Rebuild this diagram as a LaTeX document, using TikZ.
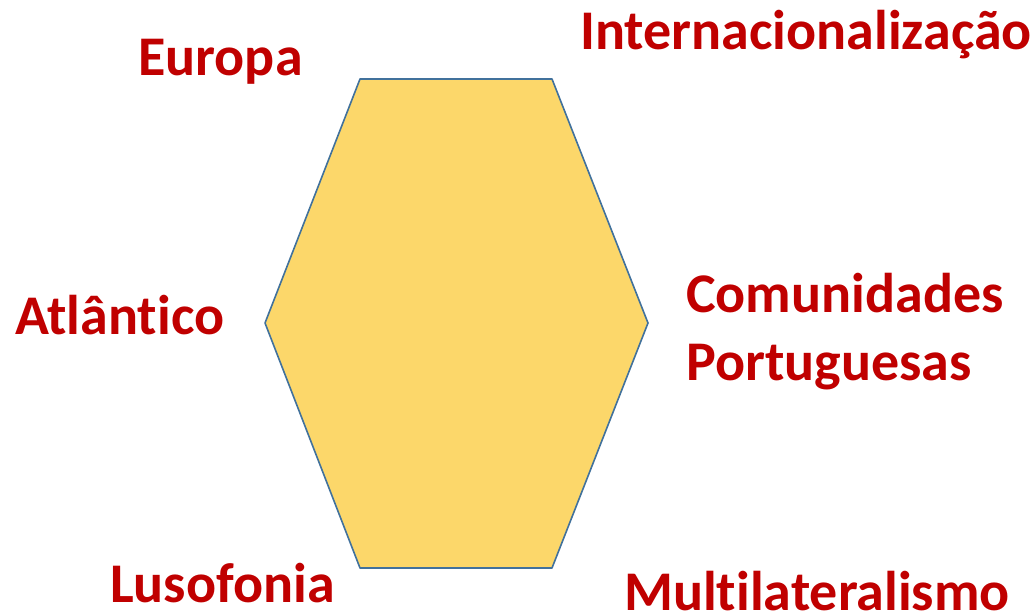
\documentclass[tikz,border=0pt]{standalone}
\usepackage{fontspec}
\setmainfont[Ligatures=NoCommon]{Carlito}
\definecolor{labelred}{HTML}{C00000}
\definecolor{hexfill}{HTML}{FCD76A}
\definecolor{hexline}{HTML}{41719C}
\begin{document}
\begin{tikzpicture}[x=1pt,y=-1pt]
        \tikzstyle{lbl}=[anchor=base west, inner sep=0pt, text=labelred, font=\fontsize{56}{64}\selectfont\bfseries]
        \useasboundingbox (0,0) rectangle (1034,613);
        % Hexagon
        \draw[hexline, line width=1.6pt, fill=hexfill, line join=round]
            (360,79) -- (552,79) -- (648,323) -- (552,568) -- (360,568) -- (265,323) -- cycle;

        % Labels
        \node (europa)[lbl] at (138,75) {Europa};
        \node (intern)[lbl] at (580,49) {Internacionalização};
        \node (atlant)[lbl] at (15,334) {Atlântico};
        \node (comun)[lbl] at (686,312) {Comunidades};
        \node (portug)[lbl] at (686,380) {Portuguesas};
        \node (luso)[lbl] at (110,602) {Lusofonia};
        \node (multi)[lbl] at (624,610) {Multilateralismo};
    \end{tikzpicture}
\end{document}
